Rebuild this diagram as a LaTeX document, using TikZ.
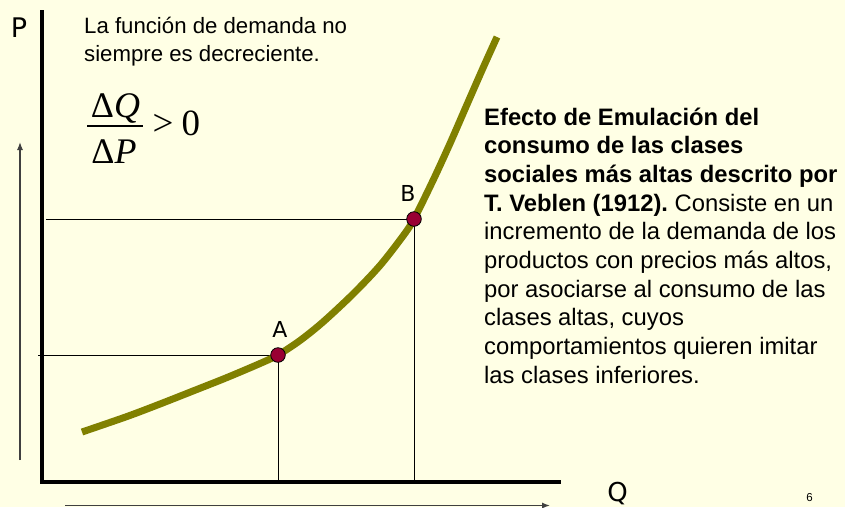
\documentclass[tikz,border=0pt]{standalone}
\usepackage{fontspec}
\setmainfont{Liberation Sans}
\newfontfamily\serifm{Liberation Serif}
\newfontfamily\dejavu{DejaVu Sans}
\usetikzlibrary{arrows.meta}
\definecolor{bgc}{RGB}{255,255,229}
\definecolor{olivec}{RGB}{128,128,0}
\definecolor{dotc}{RGB}{153,0,51}
\definecolor{arrowc}{RGB}{64,64,64}
\tikzset{
  rtxt/.style={anchor=base west, inner sep=0, font=\fontsize{23.8}{28}\selectfont},
  ltxt/.style={anchor=base west, inner sep=0, font=\fontsize{22.2}{27}\selectfont},
  lbl/.style={anchor=base, inner sep=0, font=\dejavu\fontsize{22}{26}\selectfont},
  mth/.style={anchor=base, inner sep=0, font=\serifm\fontsize{36}{40}\selectfont},
  guide/.style={line width=1pt, black},
  pointdot/.style={circle, fill=dotc, draw=black, line width=0.8pt, minimum size=14.6pt, inner sep=0},
  axisline/.style={line width=4pt, black, line join=miter},
  dirarrow/.style={arrowc, line width=1.2pt, -{Latex[length=8pt,width=6pt]}},
  demand/.style={olivec, line width=7pt},
}
\begin{document}
\begin{tikzpicture}[x=1pt,y=-1pt]
\fill[bgc] (0,0) rectangle (845,507);
\useasboundingbox (0,0) rectangle (845,507);
% coordinates
\coordinate (pA) at (278,355);
\coordinate (pB) at (414,219);
\coordinate (yA) at (38,355);
\coordinate (yB) at (46,219);
\coordinate (xA) at (278,482);
\coordinate (xB) at (414,482);
\coordinate (ytop) at (42,10);
\coordinate (orig) at (42,482);
\coordinate (xend) at (561,482);
\coordinate (va0) at (20,460);
\coordinate (va1) at (20,142);
\coordinate (ha0) at (65,505.5);
\coordinate (ha1) at (550,505.5);
% guides
\draw[guide] (yA) -- (pA) -- (xA);
\draw[guide] (yB) -- (pB) -- (xB);
% axes
\draw[axisline] (ytop) -- (orig) -- (xend);
% direction arrows
\draw[dirarrow] (va0) -- (va1);
\draw[dirarrow] (ha0) -- (ha1);
% demand curve
\draw[demand] plot[smooth, tension=0.5] coordinates {(82,432) (127,416.5) (160,404) (193,391) (227,377.5) (260,363.5) (pA) (300,340.5) (323,322) (353,294) (380,265.5) (403,236) (pB) (433,180.5) (450,143.5) (467,104.5) (483,68) (497,37)};
% points
\node[pointdot] (A) at (pA) {};
\node[pointdot] (B) at (pB) {};
\node[lbl] (lA) at (280,337) {A};
\node[lbl] (lB) at (408,201.5) {B};
% axis labels
\node[anchor=base, inner sep=0, font=\dejavu\fontsize{27}{30}\selectfont] (P) at (19,37) {P};
\node[anchor=base, inner sep=0, font=\dejavu\fontsize{26}{30}\selectfont] (Q) at (617.5,501) {Q};
\node[anchor=base, inner sep=0, font=\fontsize{11.5}{13}\selectfont] (pg) at (809.5,501) {6};
% top left text
\node[ltxt] (t1) at (84,33) {La función de demanda no};
\node[ltxt] (t2) at (84,61.5) {siempre es decreciente.};
% formula
\node[mth] (num) at (115.5,117) {Δ\textit{Q}};
\node[mth] (den) at (114,163) {Δ\textit{P}};
\coordinate (bar0) at (87,126);
\coordinate (bar1) at (143,126);
\draw[line width=1.5pt] (bar0) -- (bar1);
\node[mth, anchor=base west, font=\serifm\fontsize{37}{40}\selectfont] (gt) at (152.5,135) {>};
\node[mth, anchor=base west, font=\serifm\fontsize{37}{40}\selectfont] (zero) at (181.5,135) {0};
% right text
\node[rtxt] (r1) at (484,125) {\textbf{Efecto de Emulación del}};
\node[rtxt] (r2) at (484,153.7) {\textbf{consumo de las clases}};
\node[rtxt] (r3) at (484,182.4) {\textbf{sociales más altas descrito por}};
\node[rtxt] (r4) at (484,211.1) {\textbf{T. Veblen (1912).}\ Consiste en un};
\node[rtxt] (r5) at (484,239.8) {incremento de la demanda de los};
\node[rtxt] (r6) at (484,268.5) {productos con precios más altos,};
\node[rtxt] (r7) at (484,297.2) {por asociarse al consumo de las};
\node[rtxt] (r8) at (484,325.9) {clases altas, cuyos};
\node[rtxt] (r9) at (484,354.6) {comportamientos quieren imitar};
\node[rtxt] (r10) at (484,383.3) {las clases inferiores.};
\end{tikzpicture}
\end{document}
